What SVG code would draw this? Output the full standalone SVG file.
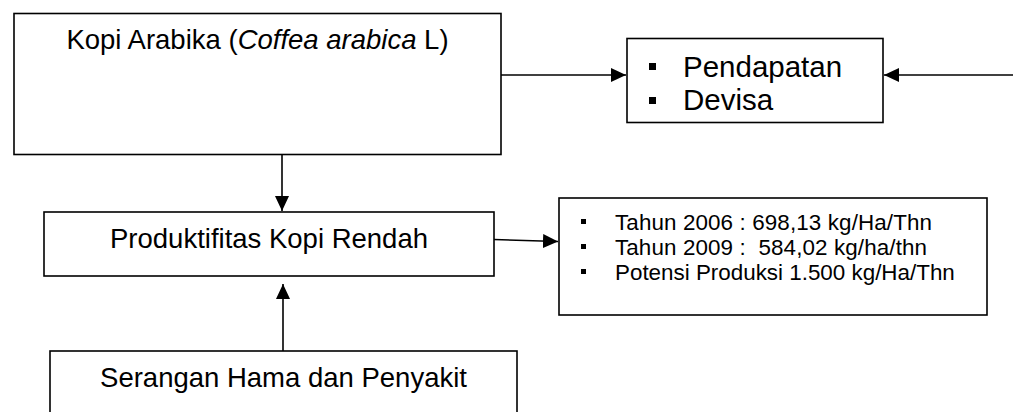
<svg xmlns="http://www.w3.org/2000/svg" width="1020" height="412" viewBox="0 0 1020 412">
  <style>
    .box { fill: #fff; stroke: #000; stroke-width: 1.6; }
    .main { font-family: "Liberation Sans", Arial, sans-serif; font-size: 27.5px; fill: #000; }
    .big { font-family: "Liberation Sans", Arial, sans-serif; font-size: 29.5px; fill: #000; }
    .small { font-family: "Liberation Sans", Arial, sans-serif; font-size: 22.4px; fill: #000; white-space: pre; }
    .conn { fill: none; stroke: #000; stroke-width: 1.6; }
  </style>
  <defs>
    <marker id="arrow" markerUnits="userSpaceOnUse" markerWidth="16" markerHeight="14" refX="15" refY="7" orient="auto">
      <path d="M0,0 L15,7 L0,14 Z" fill="#000"/>
    </marker>
  </defs>
  <rect width="1020" height="412" fill="#fff"/>

  <g id="kopi-arabika">
    <rect class="box" x="14" y="13.5" width="487" height="141"/>
    <text class="main" x="257.5" y="49" text-anchor="middle" font-size="26.6">Kopi Arabika (<tspan font-style="italic">Coffea arabica</tspan> L)</text>
  </g>

  <g id="pendapatan-devisa">
    <rect class="box" x="627" y="38.5" width="256" height="84"/>
    <rect x="649" y="63" width="7" height="7" fill="#000"/>
    <rect x="649" y="97" width="7" height="7" fill="#000"/>
    <text class="big" x="683" y="77">Pendapatan</text>
    <text class="big" x="683" y="110">Devisa</text>
  </g>

  <g id="produktifitas">
    <rect class="box" x="44" y="212" width="450" height="64"/>
    <text class="main" x="269" y="248" text-anchor="middle">Produktifitas Kopi Rendah</text>
  </g>

  <g id="statistik">
    <rect class="box" x="559" y="198" width="428" height="117"/>
    <rect x="581" y="219" width="5" height="5" fill="#000"/>
    <rect x="581" y="244" width="5" height="5" fill="#000"/>
    <rect x="581" y="269" width="5" height="5" fill="#000"/>
    <text class="small" x="615" y="230" textLength="317" lengthAdjust="spacing">Tahun 2006 : 698,13 kg/Ha/Thn</text>
    <text class="small" x="615" y="255" textLength="312" lengthAdjust="spacing">Tahun 2009 :  584,02 kg/ha/thn</text>
    <text class="small" x="615" y="280">Potensi Produksi 1.500 kg/Ha/Thn</text>
  </g>

  <g id="serangan">
    <rect class="box" x="50" y="351" width="467" height="80"/>
    <text class="main" x="283.5" y="387" text-anchor="middle">Serangan Hama dan Penyakit</text>
  </g>

  <g id="connectors">
    <line class="conn" x1="501" y1="75" x2="626" y2="75" marker-end="url(#arrow)"/>
    <line class="conn" x1="1013" y1="75" x2="884" y2="75" marker-end="url(#arrow)"/>
    <line class="conn" x1="282" y1="155" x2="282" y2="211" marker-end="url(#arrow)"/>
    <line class="conn" x1="494" y1="239.5" x2="558" y2="241.5" marker-end="url(#arrow)"/>
    <line class="conn" x1="283" y1="351" x2="283" y2="284" marker-end="url(#arrow)"/>
  </g>
</svg>
